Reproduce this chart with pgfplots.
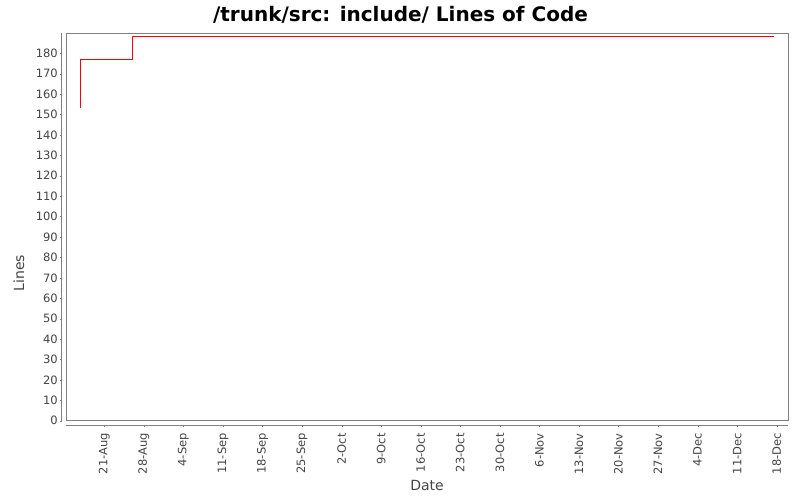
\documentclass[border=0pt]{standalone}
\usepackage{pgfplots}
\pgfplotsset{compat=1.18}
\usepackage{fontspec}
\setmainfont{DejaVu Sans}
\definecolor{axgray}{RGB}{128,128,128}
\definecolor{lab}{RGB}{68,68,68}
\begin{document}
\begin{tikzpicture}
\path[use as bounding box, fill=white] (0pt,0pt) rectangle (800pt,500pt);
\node[font=\bfseries\fontsize{20}{22}\selectfont, anchor=base, inner sep=0pt] at (400.5pt,478.3pt) {/trunk/src: include/ Lines of Code};
\node[font=\fontsize{14}{16}\selectfont, text=lab] at (427pt,15pt) {Date};
\node[font=\fontsize{14}{16}\selectfont, text=lab, rotate=90] at (19pt,227pt) {Lines};
\begin{axis}[
  at={(66pt,79.3pt)}, anchor=south west,
  scale only axis, width=722pt, height=387.4pt,
  xmin=-6.78, xmax=121.0, ymin=0, ymax=189.8,
  axis line style={axgray},
  xtick={0,7,...,119},
  xticklabels={21-Aug,28-Aug,4-Sep,11-Sep,18-Sep,25-Sep,2-Oct,9-Oct,16-Oct,23-Oct,30-Oct,6-Nov,13-Nov,20-Nov,27-Nov,4-Dec,11-Dec,18-Dec},
  ytick={0,10,...,180},
  xtick pos=bottom, ytick pos=left,
  tick align=outside, major tick length=2pt,
  xtick style={axgray, yshift=-4.3pt},
  ytick style={axgray, xshift=-4.3pt},
  tick label style={font=\fontsize{11.5}{13}\selectfont, text=lab},
  /pgf/number format/assume math mode=true,
  xticklabel style={yshift=-8.3pt, rotate=90, anchor=east, inner sep=2pt},
  yticklabel style={anchor=east, xshift=-4pt, inner sep=2pt},
  clip=false,
]
\addplot[red, line width=1pt] coordinates {
  (-4.25,153) (-4.25,177) (5.03,177) (5.03,188) (118.6,188)
};
\end{axis}
\draw[axgray, line width=0.8pt] (66pt,74.7pt) -- (788pt,74.7pt);
\draw[axgray, line width=0.8pt] (61.7pt,79.3pt) -- (61.7pt,466.7pt);
\end{tikzpicture}
\end{document}
